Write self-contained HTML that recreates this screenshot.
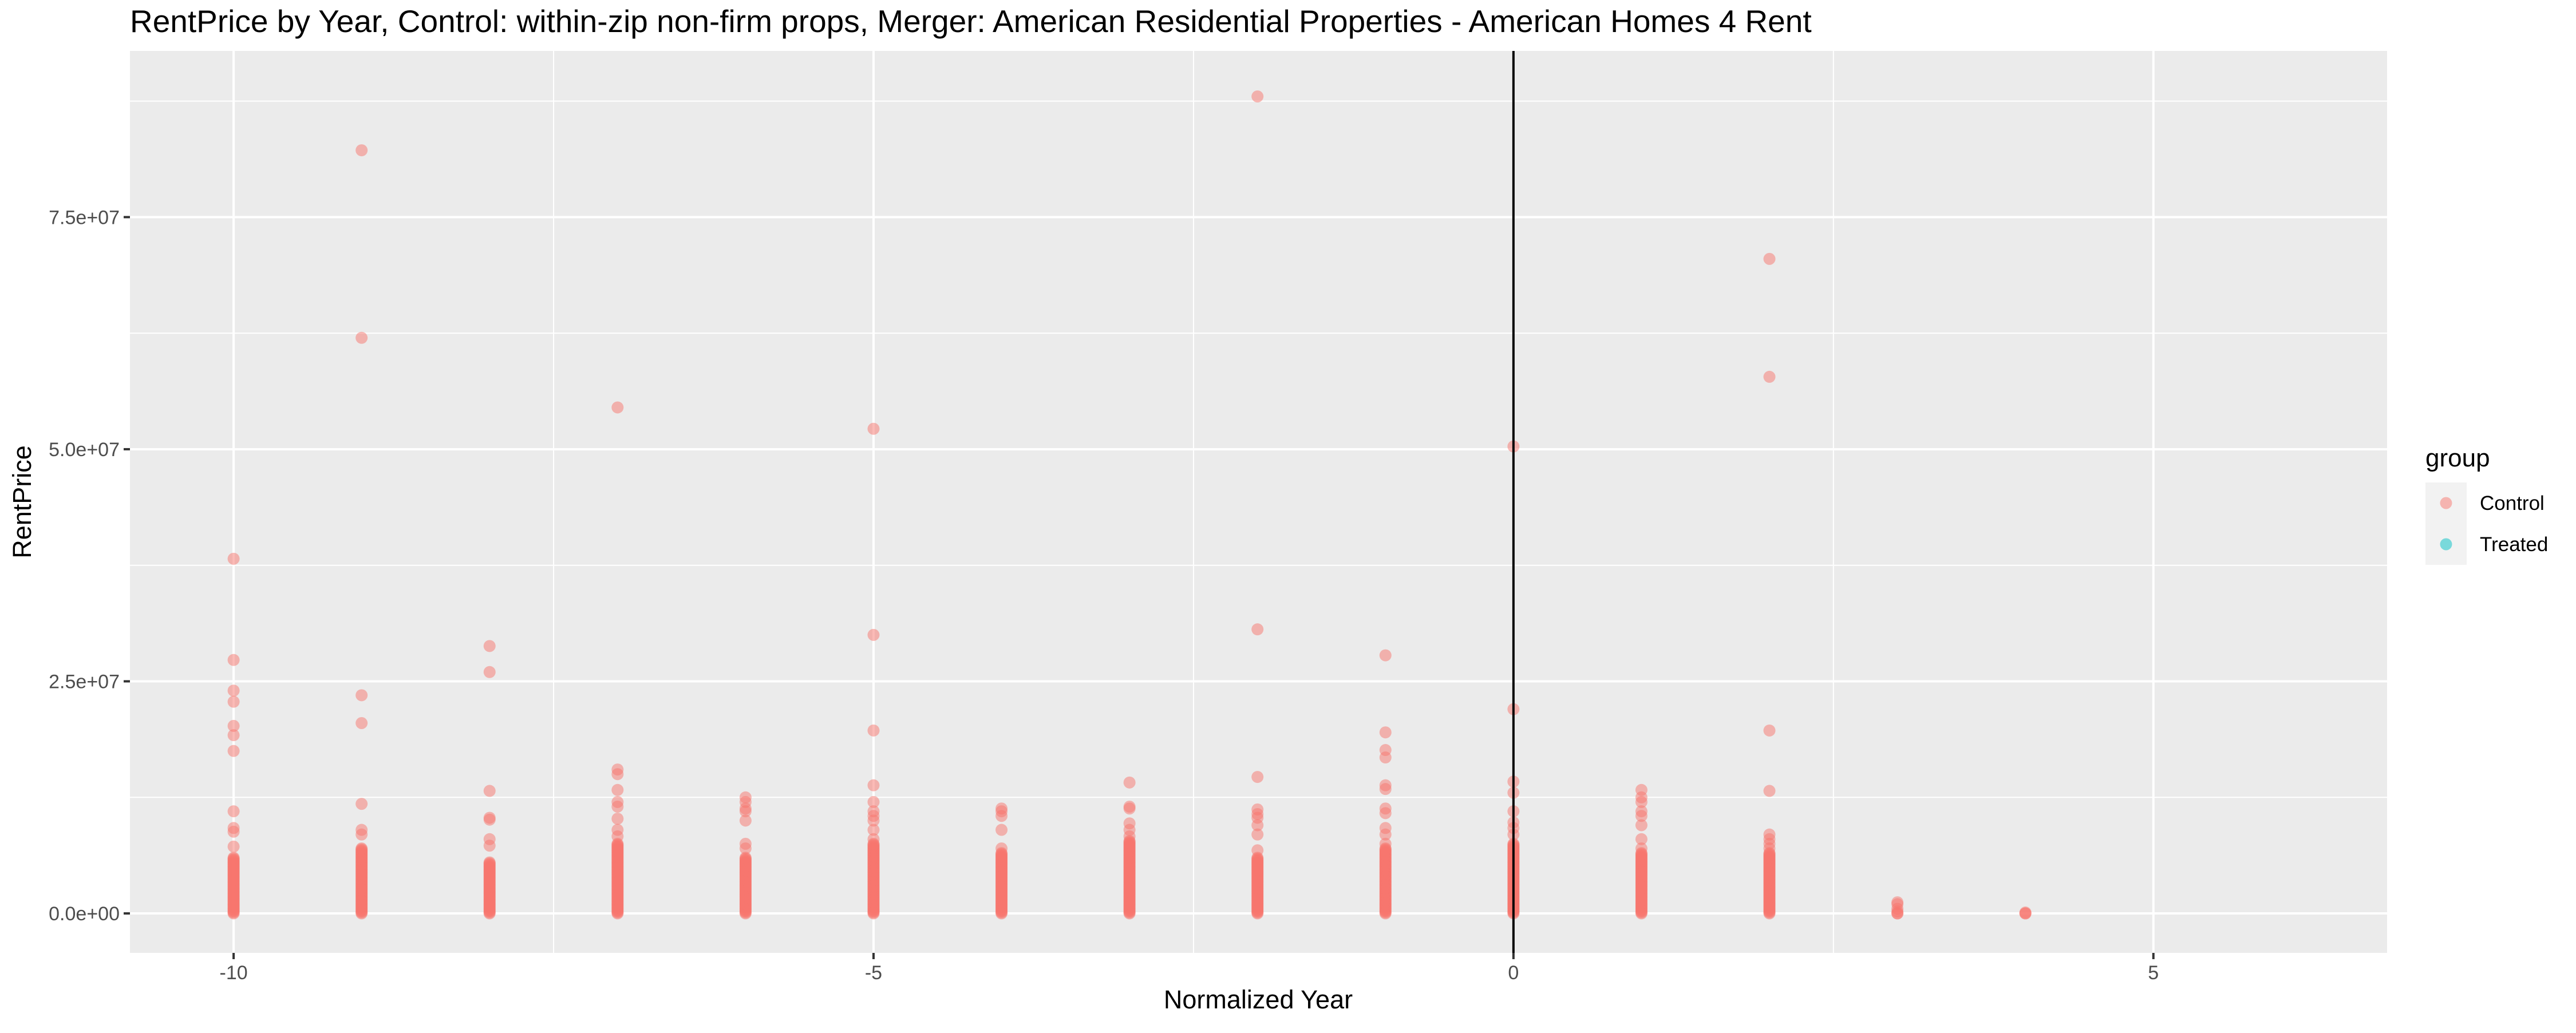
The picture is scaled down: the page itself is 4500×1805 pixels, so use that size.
<!DOCTYPE html>
<html><head><meta charset="utf-8"><style>
body{margin:0;background:#fff;}
svg text{font-family:"Liberation Sans",sans-serif;}
</style></head><body>
<svg id="chart" width="4500" height="1800" viewBox="0 0 4500 1800" xmlns="http://www.w3.org/2000/svg">
<rect width="4500" height="1800" fill="#fff"/>
<text x="227" y="56" font-size="55" fill="#000">RentPrice by Year, Control: within-zip non-firm props, Merger: American Residential Properties - American Homes 4 Rent</text>
<rect x="227" y="89" width="3943" height="1576" fill="#EBEBEB"/>
<g id="grid"></g>
<g id="points"></g>
<line id="vline" stroke="#000" stroke-width="4"/>
<g id="axes"></g>
<text x="2198" y="1762" font-size="45" text-anchor="middle">Normalized Year</text>
<text transform="translate(54,877) rotate(-90)" font-size="45" text-anchor="middle">RentPrice</text>
<g>
<text x="4237" y="815" font-size="44">group</text>
<rect x="4237" y="843" width="72" height="144" fill="#F2F2F2"/>
<g><circle cx="4273" cy="879" r="10.5" fill="#F8766D" fill-opacity="0.5"/><text x="4332" y="891" font-size="35">Control</text></g>
<g><circle cx="4273" cy="951" r="10.5" fill="#00BFC4" fill-opacity="0.5"/><text x="4332" y="963" font-size="35">Treated</text></g>
</g>
</svg>
<script>
// data (RentPrice in millions)
const years = [-10,-9,-8,-7,-6,-5,-4,-3,-2,-1,0,1,2,3,4];
const outliers = [
 [38.2,27.3,24,22.8,20.2,19.2,17.5,11,9.2,8.8,7.2],
 [82.2,62,23.5,20.5,11.8,9,8.5],
 [28.8,26,13.2,10.3,10.1,8,7.3],
 [54.5,15.5,15,13.3,12,11.5,10.2,9,8.3],
 [12.5,12,11.3,11,10,7.5,7],
 [52.2,30,19.7,13.8,12,11,10.5,10,9,8],
 [11.3,11,10.5,9,7],
 [14.1,11.5,11.3,9.7,9,8.3],
 [88,30.6,14.7,11.2,10.7,10.3,9.5,8.5,6.8],
 [27.8,19.5,17.6,16.8,13.8,13.4,11.3,10.8,9.2,8.5,7.5],
 [50.3,22,14.2,13,11,9.8,9.2,8.5],
 [13.3,12.5,12,11,10.5,9.5,8,7],
 [70.5,57.8,19.7,13.2,8.5,8,7.5,7],
 [1.2,1,0.5,0.2,0],
 [0.1,0]
];
const denseTop = [6,7,5.5,7.5,6,7.5,6.5,7.8,6,7,7.5,6.5,6.5,0,0];
const xTicks = [-10,-5,0,5];
const xTickLabels = ["-10","-5","0","5"];
const yTicks = [0,25,50,75];
const yTickLabels = ["0.0e+00","2.5e+07","5.0e+07","7.5e+07"];

const L=227,R=4170,T=89,B=1665;
const xMin=-10.81, xMax=6.826, yMin=-4.25, yMax=92.9;
const xs=v=>L+(v-xMin)/(xMax-xMin)*(R-L);
const ys=v=>B-(v-yMin)/(yMax-yMin)*(B-T);
const NS="http://www.w3.org/2000/svg";
function mk(tag,attrs,parent){const e=document.createElementNS(NS,tag);for(const k in attrs)e.setAttribute(k,attrs[k]);parent.appendChild(e);return e;}
const grid=document.getElementById('grid'), pts=document.getElementById('points'), axes=document.getElementById('axes');
for(let i=0;i<xTicks.length-1;i++){const m=(xTicks[i]+xTicks[i+1])/2;
 const l=mk('line',{x1:xs(m),x2:xs(m),y1:T,y2:B,stroke:'#fff','stroke-width':2},grid);
 
 }
for(let i=0;i<yTicks.length;i++){const m=yTicks[i]+12.5;
 const l=mk('line',{x1:L,x2:R,y1:ys(m),y2:ys(m),stroke:'#fff','stroke-width':2},grid);
 
 }
xTicks.forEach((t,i)=>{
 const l=mk('line',{x1:xs(t),x2:xs(t),y1:T,y2:B,stroke:'#fff','stroke-width':4},grid);
 
 
 const k=mk('line',{x1:xs(t),x2:xs(t),y1:B,y2:B+11,stroke:'#333','stroke-width':4},axes);
 
 
 const tx=mk('text',{x:xs(t),y:B+46,'font-size':34,'text-anchor':'middle',fill:'#4D4D4D'},axes);
 tx.textContent=xTickLabels[i];
 
 
});
yTicks.forEach((t,i)=>{
 const l=mk('line',{x1:L,x2:R,y1:ys(t),y2:ys(t),stroke:'#fff','stroke-width':4},grid);
 
 
 const k=mk('line',{x1:L-11,x2:L,y1:ys(t),y2:ys(t),stroke:'#333','stroke-width':4},axes);
 
 
 const tx=mk('text',{x:L-18,y:ys(t)+12,'font-size':34,'text-anchor':'end',fill:'#4D4D4D'},axes);
 tx.textContent=yTickLabels[i];
 
 
});
function dot(x,v){const c=mk('circle',{cx:xs(x),cy:ys(v),r:10.5,fill:'#F8766D','fill-opacity':0.5},pts);
 
 }
years.forEach((yr,i)=>{
 outliers[i].forEach(v=>dot(yr,v));
 for(let v=0;v<=denseTop[i];v+=0.1)dot(yr,v);
});
const vl=document.getElementById('vline');
vl.setAttribute('x1',xs(0));vl.setAttribute('x2',xs(0));vl.setAttribute('y1',T);vl.setAttribute('y2',B);
</script>
</body></html>
